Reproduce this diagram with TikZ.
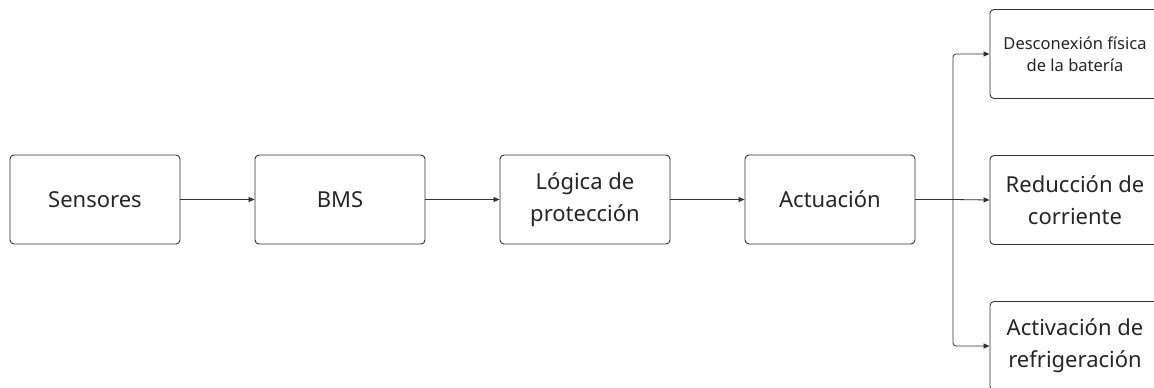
\documentclass[tikz,border=0pt]{standalone}
\usepackage{fontspec}
\setmainfont{Noto Sans}
\usetikzlibrary{arrows.meta}
\definecolor{ink}{HTML}{333333}
\begin{document}
\begin{tikzpicture}[x=1pt,y=-1pt,
  block/.style={draw=ink, line width=0.9pt, rounded corners=4pt, fill=white,
    minimum width=170pt, minimum height=89pt, inner sep=2pt, align=center,
    font=\fontsize{22}{32}\selectfont, text=black!85},
  small/.style={font=\fontsize{16.5}{22}\selectfont},
  arr/.style={draw=ink, line width=0.8pt, -{Triangle[length=6pt,width=5pt]}}]
\useasboundingbox (0,0) rectangle (1154,388);
\clip (0,0) rectangle (1154,388);
% main chain
\node[block] (sen) at (95,199.5) {Sensores};
\node[block] (bms) at (340,199.5) {BMS};
\node[block] (log) at (585,199.5) {Lógica de\\protección};
\node[block] (act) at (830,199.5) {Actuación};
% outcomes
\node[block, small] (r1) at (1075,54) {Desconexión física\\de la batería};
\node[block] (r2) at (1075,200) {Reducción de\\corriente};
\node[block] (r3) at (1075,346) {Activación de\\refrigeración};
\coordinate (bus) at (953,199.5);
% connectors
\draw[arr] (sen) -- (bms);
\draw[arr] (bms) -- (log);
\draw[arr] (log) -- (act);
\draw[draw=ink, line width=1.4pt] (act.east) -- (bus);
\draw[arr] (bus) -- (r2.west);
\draw[arr, rounded corners=3pt] (bus) |- (r1.west);
\draw[arr, rounded corners=3pt] (bus) |- (r3.west);
\end{tikzpicture}
\end{document}
